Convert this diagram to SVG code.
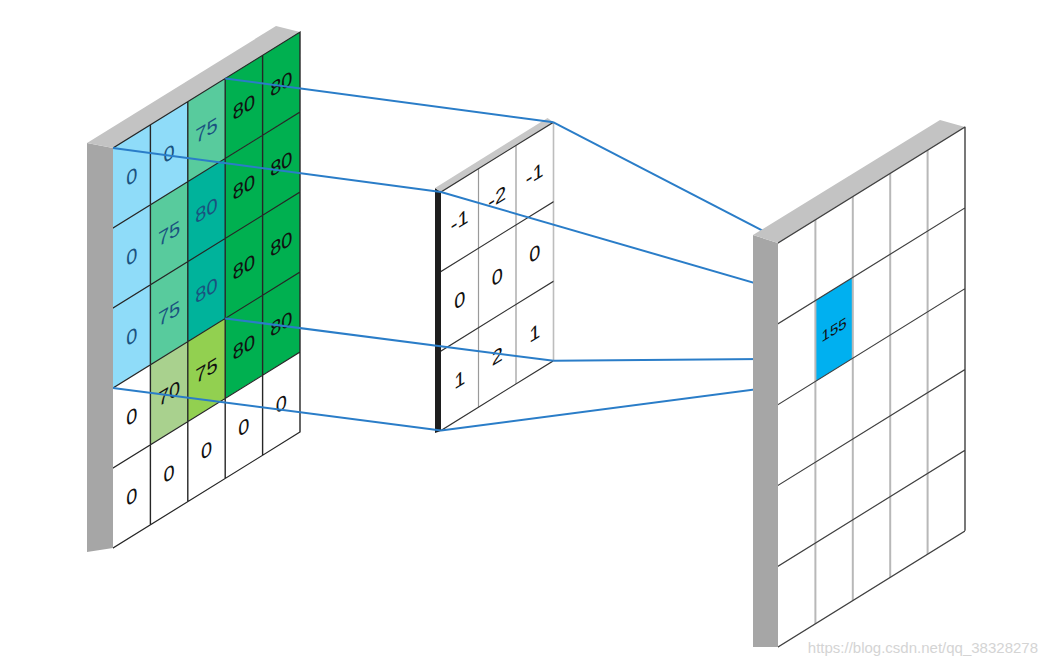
<svg xmlns="http://www.w3.org/2000/svg" width="1048" height="667" viewBox="0 0 1048 667">
<style>
.t{font-family:"Liberation Sans Narrow","Liberation Sans",Arial,sans-serif;font-size:20px;text-anchor:middle;fill:#111}
.tb{fill:#1a5380}
.gl{fill:none;stroke:#262626;stroke-width:1.4}
.gv{fill:none;stroke:#b8b8b8;stroke-width:2}
.gh{fill:none;stroke:#404040;stroke-width:1.4}
.side{fill:#a6a6a6}
.top{fill:#c3c3c3}
.lb{fill:#8fdcf9}.mi{fill:#58cb9d}.gr{fill:#00b050}.te{fill:#00b39b}.lg{fill:#a9d18e}.yg{fill:#92d050}.wh{fill:#ffffff}
.con{stroke:#2a7dc8;stroke-width:2;fill:none}
</style>
<rect width="1048" height="667" fill="#ffffff"/>

<g id="input">
  <polygon class="side" points="87,143 113,148 113,548 87,552"/>
  <polygon class="top" points="87,143 113,148 300,32 276,26"/>
  <g transform="translate(113,148) skewY(-31.8)">
    <rect class="lb" x="0" y="0" width="37.4" height="80"/>
    <rect class="lb" x="37.4" y="0" width="37.4" height="80"/>
    <rect class="mi" x="74.8" y="0" width="37.4" height="80"/>
    <rect class="gr" x="112.2" y="0" width="74.8" height="80"/>
    <rect class="lb" x="0" y="80" width="37.4" height="160"/>
    <rect class="mi" x="37.4" y="80" width="37.4" height="160"/>
    <rect class="te" x="74.8" y="80" width="37.4" height="160"/>
    <rect class="gr" x="112.2" y="80" width="74.8" height="240"/>
    <rect class="wh" x="0" y="240" width="37.4" height="160"/>
    <rect class="lg" x="37.4" y="240" width="37.4" height="80"/>
    <rect class="yg" x="74.8" y="240" width="37.4" height="80"/>
    <rect class="wh" x="37.4" y="320" width="149.6" height="80"/>
    <path class="gl" d="M37.4,0V400M74.8,0V400M112.2,0V400M149.6,0V400M0,80H187M0,160H187M0,240H187M0,320H187M0,0H187V400H0"/>
    <g class="t">
      <text class="tb" x="18.7" y="47">0</text>
      <text class="tb" x="56.1" y="47">0</text>
      <text class="tb" x="93.5" y="47">75</text>
      <text x="130.9" y="47">80</text>
      <text x="168.3" y="47">80</text>
      <text class="tb" x="18.7" y="127">0</text>
      <text class="tb" x="56.1" y="127">75</text>
      <text class="tb" x="93.5" y="127">80</text>
      <text x="130.9" y="127">80</text>
      <text x="168.3" y="127">80</text>
      <text class="tb" x="18.7" y="207">0</text>
      <text class="tb" x="56.1" y="207">75</text>
      <text class="tb" x="93.5" y="207">80</text>
      <text x="130.9" y="207">80</text>
      <text x="168.3" y="207">80</text>
      <text x="18.7" y="287">0</text>
      <text x="56.1" y="287">70</text>
      <text x="93.5" y="287">75</text>
      <text x="130.9" y="287">80</text>
      <text x="168.3" y="287">80</text>
      <text x="18.7" y="367">0</text>
      <text x="56.1" y="367">0</text>
      <text x="93.5" y="367">0</text>
      <text x="130.9" y="367">0</text>
      <text x="168.3" y="367">0</text>
    </g>
  </g>
</g>

<g id="kernel">
  <polygon fill="#1e1e1e" points="435,188 441,192 441,431 435,433"/>
  <polygon fill="#c8c8c8" points="435,188 441,192 553.5,122.3 547.5,118"/>
  <g transform="translate(441,192) skewY(-31.8)">
    <rect class="wh" x="0" y="0" width="112.5" height="238.5"/>
    <path fill="none" stroke="#9a9a9a" stroke-width="1.2" d="M37.5,0V238.5M75,0V238.5"/>
    <path fill="none" stroke="#bdbdbd" stroke-width="1.6" d="M112.5,0V238.5"/>
    <path fill="none" stroke="#333" stroke-width="1.3" d="M0,79.5H112.5M0,159H112.5M0,238.5H112.5M0,0H112.5"/>
    <g class="t">
      <text x="18.75" y="47">-1</text>
      <text x="56.25" y="47">-2</text>
      <text x="93.75" y="47">-1</text>
      <text x="18.75" y="126.5">0</text>
      <text x="56.25" y="126.5">0</text>
      <text x="93.75" y="126.5">0</text>
      <text x="18.75" y="206">1</text>
      <text x="56.25" y="206">2</text>
      <text x="93.75" y="206">1</text>
    </g>
  </g>
</g>

<g id="connectors">
  <line class="con" x1="113" y1="148" x2="441" y2="192"/>
  <line class="con" x1="225.2" y1="78.4" x2="553.5" y2="122.3"/>
  <line class="con" x1="225.2" y1="318.4" x2="553.5" y2="360.8"/>
  <line class="con" x1="113" y1="388" x2="441" y2="430.5"/>
  <line class="con" x1="441" y1="192" x2="815.4" y2="300.6"/>
  <line class="con" x1="553.5" y1="122.3" x2="852.8" y2="277.4"/>
  <line class="con" x1="553.5" y1="360.8" x2="852.8" y2="358.2"/>
  <line class="con" x1="441" y1="430.5" x2="815.4" y2="381.4"/>
</g>

<g id="output">
  <polygon class="side" points="753,235 778,243 778,647 753,647"/>
  <polygon class="top" points="753,235 778,243 965,127 940,120"/>
  <g transform="translate(778,243) skewY(-31.8)">
    <rect class="wh" x="0" y="0" width="187" height="404"/>
    <rect fill="#00b0f0" x="37.4" y="80.8" width="37.4" height="80.8"/>
    <path class="gv" d="M37.4,0V404M74.8,0V404M112.2,0V404M149.6,0V404"/>
    <path class="gh" d="M0,0H187M0,80.8H187M0,161.6H187M0,242.4H187M0,323.2H187M0,404H187M187,0V404"/>
    <text x="56.1" y="126.5" style="font-family:'Liberation Sans Narrow','Liberation Sans',Arial,sans-serif;font-size:15px;text-anchor:middle;fill:#111">155</text>
  </g>
</g>

<text x="1038" y="653" style="font-family:'Liberation Sans',Arial,sans-serif;font-size:15px;text-anchor:end;fill:#d4d4d4">https://blog.csdn.net/qq_38328278</text>
</svg>
